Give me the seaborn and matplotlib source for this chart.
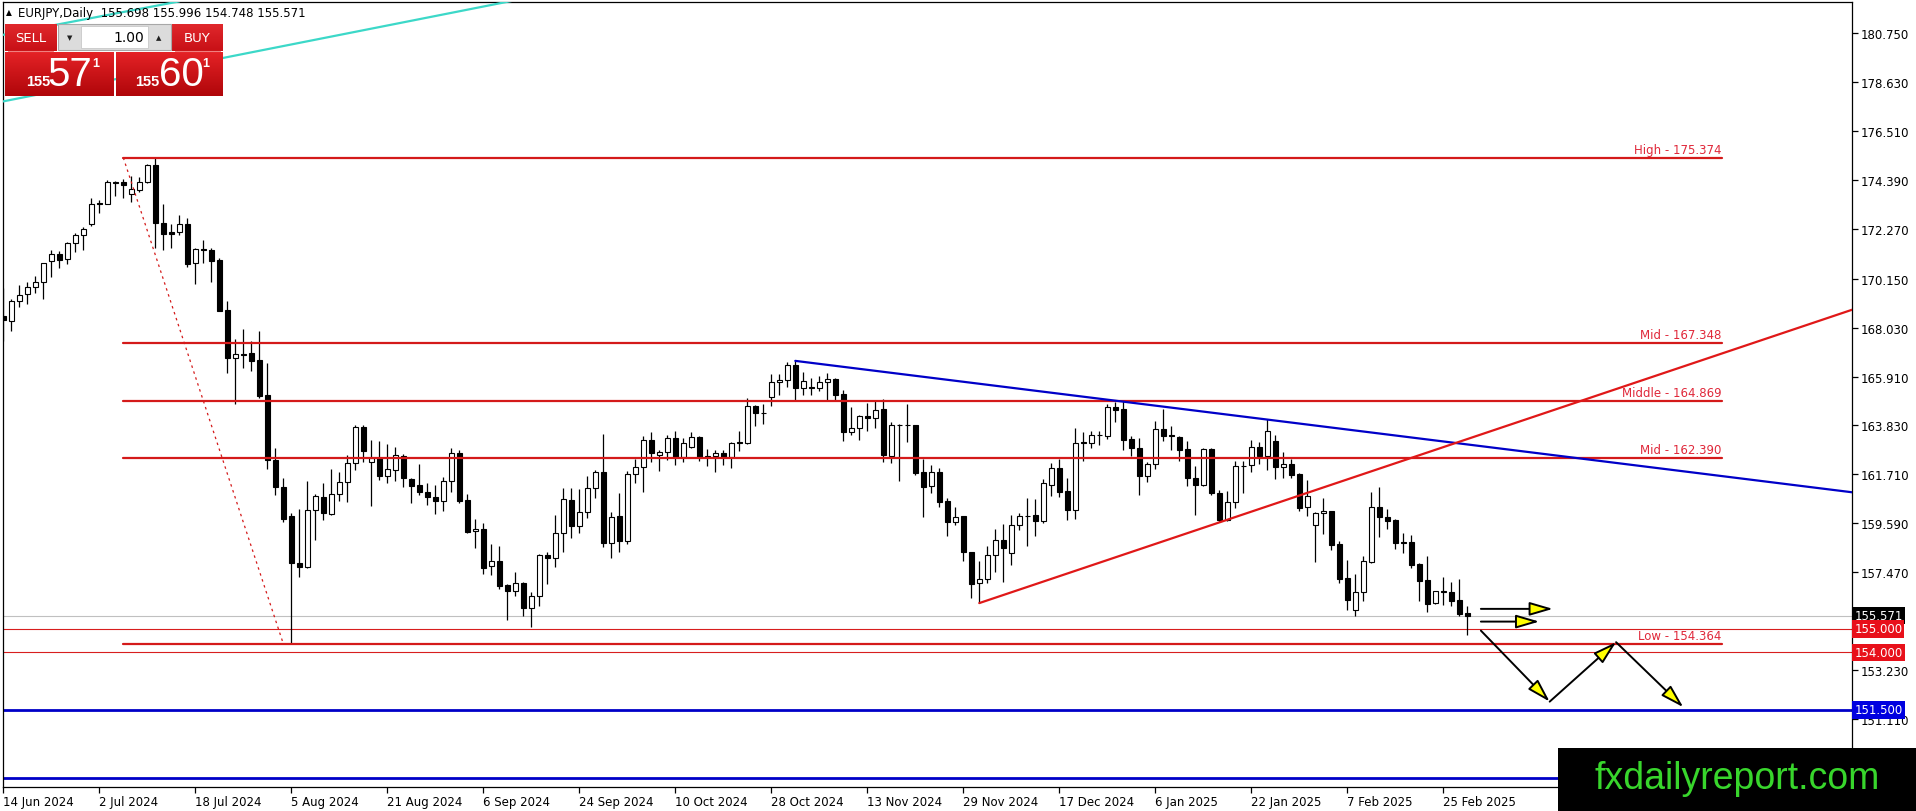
import numpy as np
import matplotlib
matplotlib.use("Agg")
import matplotlib.pyplot as plt
import matplotlib.patches as mpatches
import seaborn as sns

# EURJPY daily candles, 14 Jun 2024 .. 4 Mar 2025
opens = [168.54, 168.33, 169.19, 169.46, 169.78, 170.02, 170.92, 171.23, 170.99, 171.67,
         172.01, 172.51, 173.42, 173.39, 174.34, 174.31, 173.80, 173.98, 174.34, 175.06,
         172.54, 172.14, 172.14, 172.50, 170.80, 171.41, 171.38, 170.95, 168.79, 166.70,
         166.88, 166.93, 166.62, 165.11, 162.31, 161.12, 159.87, 157.84, 157.67, 160.15,
         160.69, 159.97, 160.84, 161.34, 162.16, 163.75, 162.23, 162.38, 161.60, 161.89,
         162.48, 161.48, 161.22, 160.91, 160.69, 160.52, 161.41, 162.59, 160.58, 159.22,
         159.32, 157.71, 157.92, 156.90, 156.66, 156.99, 155.89, 156.44, 158.18, 158.08,
         159.13, 160.57, 159.46, 160.04, 161.08, 161.77, 158.70, 159.87, 158.82, 161.70,
         162.01, 163.17, 162.53, 162.63, 163.24, 162.42, 162.85, 163.28, 162.45, 162.46,
         162.59, 162.45, 163.06, 163.06, 164.62, 164.35, 165.01, 165.66, 165.77, 166.41,
         165.40, 165.48, 165.40, 165.66, 165.80, 165.15, 163.53, 163.71, 164.19, 164.10,
         164.50, 162.49, 163.83, 163.81, 163.81, 161.77, 161.19, 161.77, 160.52, 159.61,
         159.87, 158.31, 156.97, 157.16, 158.21, 158.85, 158.27, 159.51, 159.90, 159.93,
         159.68, 161.24, 161.94, 160.95, 160.16, 163.06, 163.06, 163.40, 163.35, 164.58,
         164.50, 163.21, 162.81, 161.62, 162.13, 163.64, 163.37, 163.32, 162.78, 161.52,
         161.22, 162.78, 160.90, 159.72, 160.47, 162.04, 162.09, 162.85, 162.46, 163.14,
         162.02, 162.13, 161.70, 160.26, 159.51, 160.00, 160.09, 158.68, 157.19, 155.80,
         156.59, 157.88, 160.26, 159.83, 159.71, 158.75, 158.75, 157.81, 157.12, 156.11,
         156.63, 156.62, 156.26, 155.698]
highs = [169.72, 169.26, 169.87, 170.01, 170.27, 170.84, 171.38, 171.32, 171.71, 172.11,
         172.36, 173.61, 173.55, 174.42, 174.36, 174.44, 174.56, 174.52, 175.09, 175.38,
         173.36, 172.50, 172.89, 172.76, 171.45, 171.82, 171.45, 171.02, 169.16, 167.53,
         167.96, 167.43, 167.86, 166.50, 162.81, 161.51, 160.02, 160.19, 161.41, 160.84,
         161.31, 161.92, 161.77, 162.54, 163.82, 163.82, 163.17, 163.11, 163.00, 162.88,
         162.56, 161.51, 162.13, 161.31, 161.23, 161.59, 162.81, 162.74, 160.84, 159.76,
         159.58, 158.67, 158.57, 156.93, 157.45, 157.02, 156.59, 158.23, 158.31, 159.93,
         161.08, 161.08, 161.05, 161.62, 161.87, 163.42, 160.07, 160.88, 161.84, 162.37,
         163.35, 163.50, 162.75, 163.40, 163.54, 163.24, 163.53, 163.35, 162.80, 162.75,
         162.75, 163.09, 163.57, 164.98, 164.68, 164.72, 166.02, 166.02, 166.55, 166.59,
         166.09, 165.87, 165.92, 166.06, 165.87, 165.34, 164.58, 164.25, 164.76, 164.91,
         164.96, 163.93, 163.84, 164.72, 163.83, 162.34, 162.09, 161.94, 160.65, 160.26,
         159.90, 158.34, 157.92, 158.57, 159.32, 159.54, 159.93, 160.00, 160.66, 160.62,
         161.48, 162.16, 162.34, 161.52, 163.71, 163.52, 163.57, 163.57, 164.72, 164.82,
         164.86, 163.35, 163.24, 162.20, 164.00, 164.53, 163.78, 163.35, 163.14, 162.06,
         162.81, 162.81, 161.02, 160.98, 162.27, 162.27, 163.17, 163.09, 164.07, 163.38,
         162.64, 162.35, 161.74, 161.44, 160.04, 160.66, 160.12, 158.82, 157.99, 157.38,
         158.14, 160.91, 161.12, 160.19, 159.76, 159.14, 159.07, 157.84, 158.17, 156.66,
         157.24, 157.05, 157.16, 155.996]
lows = [167.46, 167.89, 168.90, 169.04, 169.52, 169.26, 170.23, 170.61, 170.77, 171.31,
        171.39, 172.43, 173.00, 173.36, 173.72, 173.65, 173.44, 173.90, 174.30, 171.46,
        171.39, 171.46, 172.04, 170.63, 169.91, 170.82, 170.01, 168.73, 166.06, 164.72,
        166.28, 166.16, 164.98, 161.92, 160.79, 159.64, 154.36, 157.24, 157.63, 158.86,
        159.73, 159.94, 160.55, 160.51, 161.89, 162.23, 160.33, 161.44, 161.30, 161.41,
        161.12, 160.43, 160.81, 160.38, 159.97, 160.12, 160.94, 160.45, 159.15, 158.49,
        157.38, 157.33, 156.73, 155.40, 156.44, 155.55, 155.10, 155.98, 156.95, 157.69,
        158.34, 158.93, 159.15, 159.80, 160.66, 158.53, 158.05, 158.31, 158.67, 161.29,
        160.93, 162.23, 161.84, 162.32, 162.10, 162.23, 162.82, 162.27, 162.06, 161.77,
        162.10, 161.94, 162.70, 162.99, 163.76, 163.86, 164.62, 165.11, 165.44, 164.89,
        165.12, 165.12, 165.30, 164.89, 164.89, 163.14, 163.40, 163.18, 163.57, 163.71,
        162.23, 162.17, 161.41, 163.09, 161.67, 159.85, 160.90, 160.26, 159.03, 159.48,
        157.95, 156.33, 156.12, 156.97, 157.48, 157.05, 157.78, 159.29, 158.60, 159.03,
        159.57, 160.76, 160.72, 159.72, 159.75, 162.27, 162.81, 162.96, 163.21, 163.96,
        162.75, 162.46, 160.80, 161.34, 161.91, 163.14, 162.75, 162.27, 161.16, 159.93,
        161.16, 160.79, 159.61, 159.68, 160.23, 160.90, 161.80, 162.13, 161.88, 161.48,
        161.51, 161.51, 160.12, 159.87, 157.91, 159.11, 158.43, 156.98, 155.80, 155.55,
        156.19, 157.86, 158.96, 159.32, 158.46, 158.29, 157.64, 156.23, 155.75, 156.06,
        156.04, 156.01, 155.58, 154.748]
closes = [168.37, 169.19, 169.45, 169.78, 170.02, 170.80, 171.23, 170.96, 171.67, 172.01,
          172.28, 173.35, 173.38, 174.34, 174.29, 174.18, 174.01, 174.34, 175.06, 172.53,
          172.08, 172.08, 172.50, 170.79, 171.42, 171.39, 170.92, 168.76, 166.70, 166.88,
          166.86, 166.60, 165.08, 162.31, 161.12, 159.76, 157.84, 157.67, 160.15, 160.74,
          160.00, 160.84, 161.34, 162.16, 163.72, 162.71, 162.38, 161.60, 161.92, 162.52,
          161.51, 161.20, 160.91, 160.69, 160.52, 161.41, 162.59, 160.55, 159.21, 159.32,
          157.65, 157.92, 156.87, 156.66, 156.97, 155.89, 156.44, 158.20, 158.08, 159.15,
          160.62, 159.46, 160.04, 161.09, 161.77, 158.70, 159.85, 158.82, 161.70, 162.01,
          163.17, 162.59, 162.63, 163.24, 162.42, 163.06, 163.28, 162.42, 162.46, 162.59,
          162.45, 163.06, 163.05, 164.62, 164.32, 164.33, 165.66, 165.77, 166.41, 165.40,
          165.70, 165.40, 165.69, 165.80, 165.12, 163.53, 163.71, 164.19, 164.10, 164.46,
          162.52, 163.83, 163.81, 163.80, 161.74, 161.15, 161.77, 160.50, 159.61, 159.85,
          158.31, 156.94, 157.16, 158.21, 158.85, 158.49, 159.51, 159.90, 159.88, 159.68,
          161.29, 161.94, 160.93, 160.16, 163.06, 163.05, 163.40, 163.38, 164.58, 164.48,
          163.18, 162.81, 161.62, 162.13, 163.64, 163.35, 163.34, 162.75, 161.51, 161.22,
          162.78, 160.90, 159.71, 160.47, 162.03, 162.06, 162.85, 162.46, 163.57, 162.02,
          162.13, 161.66, 160.23, 160.74, 160.02, 160.12, 158.65, 157.16, 156.27, 156.59,
          157.93, 160.26, 159.83, 159.68, 158.72, 158.73, 157.78, 157.09, 156.09, 156.63,
          156.62, 156.23, 155.65, 155.571]

date_labels = ["14 Jun 2024", "2 Jul 2024", "18 Jul 2024", "5 Aug 2024", "21 Aug 2024",
               "6 Sep 2024", "24 Sep 2024", "10 Oct 2024", "28 Oct 2024", "13 Nov 2024",
               "29 Nov 2024", "17 Dec 2024", "6 Jan 2025", "22 Jan 2025", "7 Feb 2025",
               "25 Feb 2025"]
bars_per_label = 12
price_ticks = [180.750, 178.630, 176.510, 174.390, 172.270, 170.150, 168.030, 165.910,
               163.830, 161.710, 159.590, 157.470, 153.230, 151.110]

fib_names = ["High", "Mid", "Middle", "Mid", "Low"]
fib_levels = [175.374, 167.348, 164.869, 162.390, 154.364]
fib_span = [15, 214.8]          # bar range of the fibo object
fib_diag_bars = [15, 35]
fib_diag_prices = [175.374, 154.364]

blue_trend_bars = [99, 231.1]
blue_trend_prices = [166.59, 160.91]
red_trend_bars = [122, 231.1]
red_trend_prices = [156.12, 168.80]
cyan1_bars = [-1, 64]
cyan1_prices = [177.74, 182.18]
cyan2_bars = [-1, 22]
cyan2_prices = [180.62, 182.13]

last_price = 155.571
red_levels = [155.000, 154.000]
blue_levels = [151.500, 148.550]
boxed_levels = [155.571, 155.000, 154.000, 151.500]
boxed_colors = ["black", "#e8101a", "#e8101a", "#0000e0"]

flat_arrow_bars = [[184.7, 193.7], [184.7, 192.0]]
flat_arrow_prices = [155.87, 155.32]
zigzag_bars = [184.7, 193.3, 201.6, 210.0]
zigzag_prices = [154.93, 151.86, 154.43, 151.62]

# ---------------------------------------------------------------
sns.set_theme(style="white")
plt.rcParams['font.family'] = ['DejaVu Sans']

W, H = 1916, 812
fig = plt.figure(figsize=(W / 100, H / 100), dpi=100)
fig.patch.set_facecolor("white")
ax = fig.add_axes([2.7 / W, 1 - 788 / H, (1852 - 2.7) / W, (788 - 2.7) / H])
ax.set_facecolor("white")

x = np.arange(len(opens))
o = np.array(opens)
c = np.array(closes)
bottoms = np.minimum(o, c)
heights = np.maximum(np.abs(c - o), 0.02)
fills = np.where(c >= o, "white", "black")

# horizontal level lines
ax.axhline(last_price, color="#c0c0c0", lw=0.8, zorder=1)
for lv in red_levels:
    ax.axhline(lv, color="#d81e1e", lw=0.8, zorder=1)
for lv in blue_levels:
    ax.axhline(lv, color="#0000c8", lw=2.0, zorder=1)

ax.vlines(x, lows, highs, color="black", lw=0.9, zorder=2)
ax.bar(x, heights, bottom=bottoms, width=0.58, color=fills, edgecolor="black",
       linewidth=0.8, zorder=3)

# fibo levels
for name, lv in zip(fib_names, fib_levels):
    ax.plot(fib_span, [lv, lv], color="#d41a1a", lw=1.6, zorder=4)
    ax.annotate(f"{name} - {lv:.3f}", xy=(fib_span[1], lv), xytext=(0, 1.5),
                textcoords="offset points", ha="right", va="bottom",
                color="#e0283a", fontsize=8.5, zorder=5)
ax.plot(fib_diag_bars, fib_diag_prices, color="#d41a1a", lw=0.9,
        ls=(0, (2, 3)), zorder=4)

# trend lines
sns.lineplot(x=blue_trend_bars, y=blue_trend_prices, ax=ax, color="#0000c8", lw=1.6,
             zorder=4, legend=False)
sns.lineplot(x=red_trend_bars, y=red_trend_prices, ax=ax, color="#e01818", lw=1.6,
             zorder=4, legend=False)
sns.lineplot(x=cyan1_bars, y=cyan1_prices, ax=ax, color="#3cd8c8", lw=1.6,
             zorder=4, legend=False)
sns.lineplot(x=cyan2_bars, y=cyan2_prices, ax=ax, color="#3cd8c8", lw=1.6,
             zorder=4, legend=False)

# arrows
arrow_kw = dict(arrowstyle="-|>,head_length=1.3,head_width=0.38", mutation_scale=11,
                fc="#ffff00", ec="black", lw=1.4, shrinkA=0, shrinkB=0)
for bb, pp in zip(flat_arrow_bars, flat_arrow_prices):
    ax.annotate("", xy=(bb[1], pp), xytext=(bb[0], pp), arrowprops=arrow_kw, zorder=6)
for i in range(len(zigzag_bars) - 1):
    ax.annotate("", xy=(zigzag_bars[i + 1], zigzag_prices[i + 1]),
                xytext=(zigzag_bars[i], zigzag_prices[i]), arrowprops=arrow_kw, zorder=6)

ax.set_xlim(-0.075, 231.09)
ax.set_ylim(148.17, 182.116)

ax.yaxis.tick_right()
ax.set_yticks(price_ticks)
ax.set_yticklabels([f"{v:.3f}" for v in price_ticks])
ax.tick_params(axis="y", right=True, left=False, labelright=True, labelleft=False,
               length=4, width=0.9, pad=2, labelsize=8.5, colors="black", direction="out")
ax.set_xticks(np.arange(len(date_labels)) * bars_per_label)
ax.set_xticklabels(date_labels)
ax.tick_params(axis="x", bottom=True, length=4, width=0.9, pad=2, labelsize=8.5,
               colors="black", direction="out")
for lbl in ax.get_xticklabels():
    lbl.set_ha("left")
for sp in ax.spines.values():
    sp.set_visible(True)
    sp.set_color("black")
    sp.set_linewidth(0.9)
ax.grid(False)

for lv, col in zip(boxed_levels, boxed_colors):
    ax.text(1.0012, lv, f"{lv:.3f}", transform=ax.get_yaxis_transform(), ha="left",
            va="center", color="white", fontsize=8.5, clip_on=False, zorder=10,
            bbox=dict(boxstyle="square,pad=0.18", fc=col, ec="none"))

# overlay in pixel coordinates: header, trade panel, watermark
ov = fig.add_axes([0, 0, 1, 1], zorder=10)
ov.set_xlim(0, W)
ov.set_ylim(H, 0)
ov.axis("off")
ov.patch.set_alpha(0)

ov.text(9, 13, "\u25b2", fontsize=5.5, ha="center", va="center", color="black")
ov.text(18, 13, "EURJPY,Daily  155.698 155.996 154.748 155.571", fontsize=8.5,
        ha="left", va="center", color="black")


def red_box(x0, y0, w, h, top, bot):
    grad = np.linspace(0, 1, 32)[:, None, None]
    t = np.array(top)[None, None, :] / 255
    b = np.array(bot)[None, None, :] / 255
    img = t + (b - t) * grad
    ov.imshow(img, extent=(x0, x0 + w, y0 + h, y0), aspect="auto", zorder=1,
              interpolation="bilinear")


red_box(5, 25, 52, 27, (224, 40, 44), (200, 16, 22))
red_box(172, 25, 51, 27, (224, 40, 44), (200, 16, 22))
red_box(5, 53, 109, 44, (228, 34, 38), (176, 6, 10))
red_box(116, 53, 107, 44, (228, 34, 38), (176, 6, 10))
ov.plot([8, 53], [51.5, 51.5], color="#f08080", lw=0.8, zorder=2)
ov.plot([175, 220], [51.5, 51.5], color="#f08080", lw=0.8, zorder=2)
ov.add_patch(mpatches.Rectangle((58, 25), 113, 26, fc="#dcdcdc", ec="#a8a8a8",
                                lw=0.8, zorder=2))
ov.add_patch(mpatches.Rectangle((81, 27), 67, 22, fc="white", ec="#c8c8c8",
                                lw=0.6, zorder=3))
ov.text(70, 38, "\u25bc", fontsize=5, ha="center", va="center", color="#202020", zorder=4)
ov.text(159, 38, "\u25b2", fontsize=5, ha="center", va="center", color="#202020", zorder=4)
ov.text(144, 38, "1.00", fontsize=10, ha="right", va="center", color="black", zorder=4)
ov.text(31, 39, "SELL", fontsize=9.5, ha="center", va="center", color="white", zorder=4)
ov.text(197, 39, "BUY", fontsize=9.5, ha="center", va="center", color="white", zorder=4)

panel_font = ['Liberation Sans', 'DejaVu Sans']
ov.text(38, 82, "155", fontsize=10.5, fontweight="bold", ha="center", va="center",
        color="white", family=panel_font, zorder=4)
ov.text(70, 75, "57", fontsize=29, ha="center", va="center", color="white",
        family=panel_font, zorder=4)
ov.text(96, 64, "1", fontsize=9, fontweight="bold", ha="center", va="center",
        color="white", family=panel_font, zorder=4)
ov.text(147, 82, "155", fontsize=10.5, fontweight="bold", ha="center", va="center",
        color="white", family=panel_font, zorder=4)
ov.text(181, 75, "60", fontsize=29, ha="center", va="center", color="white",
        family=panel_font, zorder=4)
ov.text(206, 64, "1", fontsize=9, fontweight="bold", ha="center", va="center",
        color="white", family=panel_font, zorder=4)

ov.add_patch(mpatches.Rectangle((1558, 749), W - 1558, H - 749, fc="black", ec="none",
                                zorder=5))
ov.text(1737, 779, "fxdailyreport.com", fontsize=27, ha="center", va="center",
        color="#38d62c", family=panel_font, zorder=6)

fig.savefig("out.png", dpi=100)
